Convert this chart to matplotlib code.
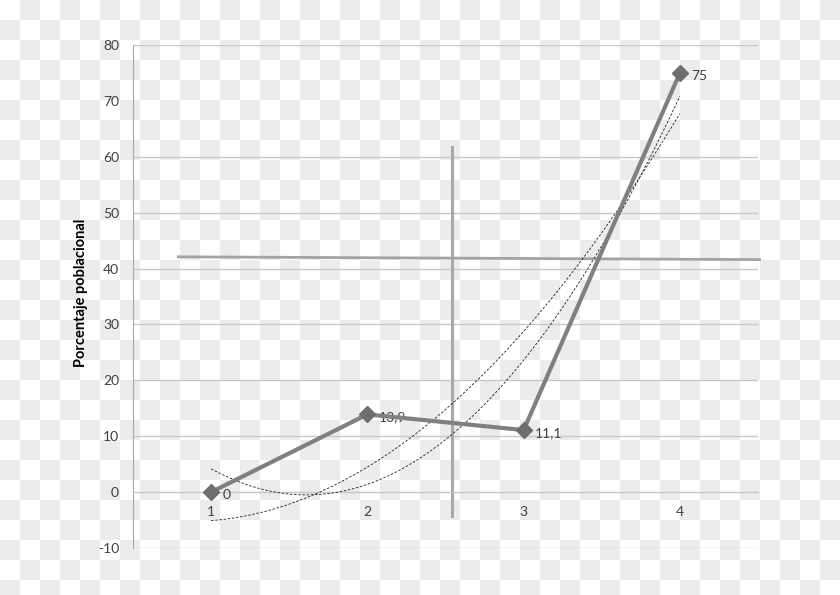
import numpy as np
import matplotlib
matplotlib.use('Agg')
import matplotlib.pyplot as plt

# datos
x_cat = [1, 2, 3, 4]
valores = [0, 13.9, 11.1, 75]
etiquetas = ['0', '13,9', '11,1', '75']
y_ticks = [-10, 0, 10, 20, 30, 40, 50, 60, 70, 80]
grid_levels = [-10, 0, 10, 20, 30, 40, 50, 60, 80]  # la de 70 no se ve

# lineas de referencia dibujadas a mano
h_line_x = [0.79, 4.51]
h_line_y = [42.1, 41.6]
v_line_x = [2.54, 2.54]
v_line_y = [61.8, -4.2]

plt.rcParams['font.family'] = ['Lato', 'DejaVu Sans']
plt.rcParams['axes.unicode_minus'] = False

fig = plt.figure(figsize=(8.4, 5.95), dpi=100)

# fondo a cuadros (transparencia)
rows, cols = np.indices((595, 840))
checker = ((rows // 20 + cols // 20) % 2).astype(float)
fondo = np.where(checker[..., None] > 0, 236 / 255, 1.0) * np.ones((1, 1, 3))
fig.figimage(fondo, 0, 0, zorder=-10)
fig.patch.set_alpha(0)

ax = fig.add_axes([133 / 840, 1 - 548 / 595, 625 / 840, 503 / 595])
ax.patch.set_alpha(0)

ax.set_xlim(0.5, 4.5)
ax.set_ylim(-10, 80)

for g in grid_levels:
    ax.axhline(g, color='#c8c8c8', lw=1, zorder=1)

# tendencias polinomicas de orden 2 (libre y con interseccion en 0)
xs = np.linspace(1, 4, 200)
coef = np.polyfit(x_cat, valores, 2)
ax.plot(xs, np.polyval(coef, xs), color='#202020', lw=0.6, dashes=(3, 2), zorder=3)
A = np.column_stack([np.array(x_cat) ** 2, np.array(x_cat)])
c0, _, _, _ = np.linalg.lstsq(A, np.array(valores), rcond=None)
ax.plot(xs, c0[0] * xs ** 2 + c0[1] * xs, color='#202020', lw=0.6, dashes=(3, 2), zorder=3)

ax.plot(h_line_x, h_line_y, color='#a3a3a3', lw=2, zorder=2, clip_on=False)
ax.plot(v_line_x, v_line_y, color='#a8a8a8', lw=2.2, zorder=2)

ax.plot(x_cat, valores, color='#808080', lw=3, marker='D', markersize=8,
        markerfacecolor='#6e6e6e', markeredgecolor='#6e6e6e', zorder=4)
for xv, yv, lab in zip(x_cat, valores, etiquetas):
    ax.annotate(lab, (xv, yv), xytext=(8, -2), textcoords='offset points',
                ha='left', va='center', fontsize=10, color='#404040')

ax.set_yticks(y_ticks)
ax.set_xticks(x_cat)
ax.tick_params(axis='both', length=0, labelsize=10, labelcolor='#404040')
ax.tick_params(axis='y', pad=10)
ax.tick_params(axis='x', pad=10)

ax.spines['bottom'].set_position(('data', 0))
ax.spines['bottom'].set_color('#c8c8c8')
ax.spines['left'].set_color('#a8a8a8')
ax.spines['top'].set_visible(False)
ax.spines['right'].set_visible(False)

ax.set_ylabel('Porcentaje poblacional', fontsize=10.5, fontweight='bold', color='black')
ax.yaxis.set_label_coords(-0.072, 0.507)

fig.savefig('out.png', dpi=100)
